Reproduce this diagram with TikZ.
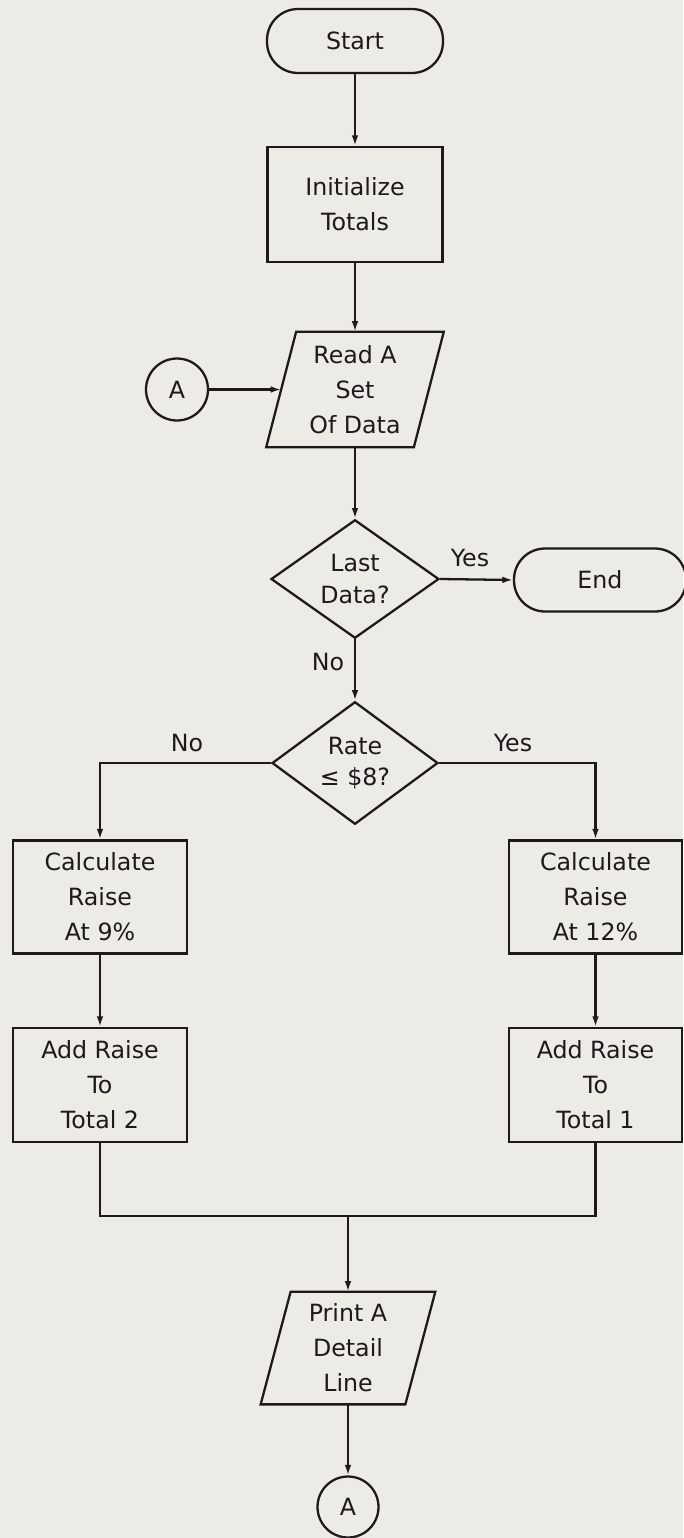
\documentclass[tikz,border=0pt]{standalone}
\usepackage{fontspec}
\setmainfont{DejaVu Sans}
\usetikzlibrary{arrows.meta,shapes.geometric}
\definecolor{paper}{RGB}{236,235,230}
\definecolor{ink}{RGB}{30,26,28}
\begin{document}
\begin{tikzpicture}[x=0.02cm,y=-0.02cm,
  every node/.style={font=\fontsize{13.5}{19.9}\selectfont, text=ink, align=center, inner sep=0pt},
  flowline/.style={draw=ink, line width=1.3pt},
  arr/.style={flowline, -{Latex[length=6pt,width=3.8pt]}},
  terminal/.style={flowline, rectangle, rounded corners=0.62cm, minimum width=3.52cm, minimum height=1.28cm},
  procbox/.style={flowline, rectangle, minimum width=3.48cm, minimum height=2.26cm},
  decision/.style={flowline, diamond, minimum width=3.34cm, minimum height=2.26cm,
    font=\fontsize{13.5}{18}\selectfont},
  iobox/.style={rectangle, minimum width=2.94cm, minimum height=2.3cm},
  connector/.style={flowline, circle, minimum size=1.24cm},
  lbl/.style={}
]
% page and paper
\useasboundingbox (0,0) rectangle (683,1538);
\fill[paper] (0,0) rectangle (683,1538);

% main column
\node[terminal] (start) at (355,41) {Start};
\node[procbox, minimum width=3.5cm, minimum height=2.3cm] (init) at (355,204.5) {Initialize\\Totals};
\node[iobox] (read) at (355,389.5) {Read A\\Set\\Of Data};
\draw[flowline] ([xshift=0.3cm]read.north west) -- ([xshift=0.3cm]read.north east)
  -- ([xshift=-0.3cm]read.south east) -- ([xshift=-0.3cm]read.south west) -- cycle;
\node[connector] (ain) at (177,389.5) {A};

\node[decision, minimum width=3.36cm, minimum height=2.22cm] (last) at (355,579) {Last\\Data?};
\node[terminal, minimum width=3.44cm, minimum height=1.26cm] (end) at (600,580) {End};

\node[decision, minimum width=3.32cm, minimum height=2.3cm] (rate) at (355,763) {Rate\\≤ \$8?};

% two branches
\node[procbox] (calcnine) at (100,897) {Calculate\\Raise\\At 9\%};
\node[procbox, minimum width=3.46cm] (calctwelve) at (595.5,897) {Calculate\\Raise\\At 12\%};
\node[procbox, minimum height=2.28cm] (addtwo) at (100,1085) {Add Raise\\To\\Total 2};
\node[procbox, minimum width=3.46cm, minimum height=2.28cm] (addone) at (595.5,1085) {Add Raise\\To\\Total 1};

% output and exit connector
\coordinate (join) at (348,1216);
\node[iobox, minimum width=2.88cm, minimum height=2.24cm] (print) at (348,1348) {Print A\\Detail\\Line};
\draw[flowline] ([xshift=0.3cm]print.north west) -- ([xshift=0.3cm]print.north east)
  -- ([xshift=-0.3cm]print.south east) -- ([xshift=-0.3cm]print.south west) -- cycle;
\node[connector, minimum size=1.22cm] (aout) at (348,1507) {A};

% branch labels
\node[lbl] (yesend) at (470,558) {Yes};
\node[lbl] (nolast) at (328,662) {No};
\node[lbl] (norate) at (187,743) {No};
\node[lbl] (yesrate) at (513,743) {Yes};

% connectors
\draw[arr] (start) -- (init);
\draw[arr] (init) -- (read.north);
\draw[arr] (ain) -- (read.west);
\draw[arr] (read.south) -- (last.north);
\draw[arr] (last.east) -- (end.west);
\draw[arr] (last.south) -- (rate.north);
\draw[arr] (rate.west) -| (calcnine.north);
\draw[arr] (rate.east) -| (calctwelve.north);
\draw[arr] (calcnine) -- (addtwo);
\draw[arr] (calctwelve) -- (addone);
\draw[flowline] (addtwo.south) |- (join) -| (addone.south);
\draw[arr] (join) -- (print.north);
\draw[arr] (print.south) -- (aout);
\end{tikzpicture}
\end{document}
